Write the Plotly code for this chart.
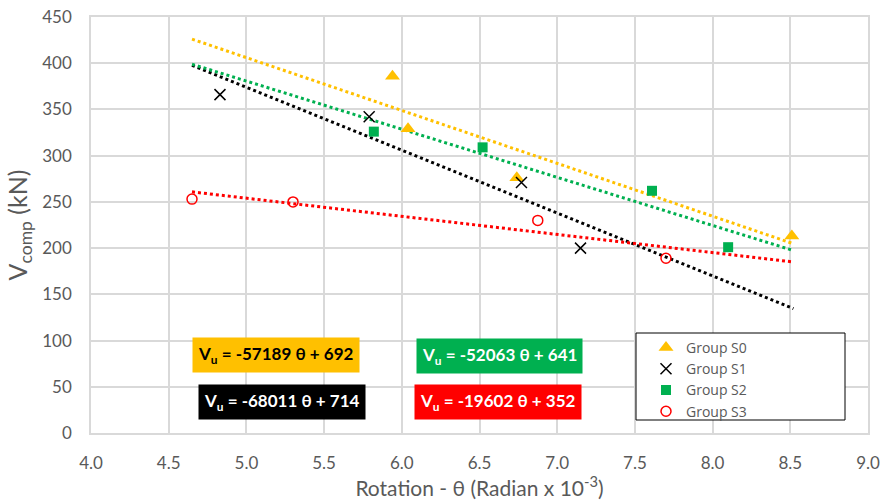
import plotly.graph_objects as go

# Data
s0_x = [5.94, 6.04, 6.74, 8.51]
s0_y = [386, 329, 276, 213]
s1_x = [4.83, 5.79, 6.77, 7.15]
s1_y = [366, 342, 271, 200]
s2_x = [5.82, 6.52, 7.61, 8.10]
s2_y = [326, 309, 262, 201]
s3_x = [4.65, 5.30, 6.875, 7.70]
s3_y = [253, 250, 230, 189]

names = ["Group S0", "Group S1", "Group S2", "Group S3"]
colors = ["#FFC000", "#000000", "#00B050", "#FF0000"]
slopes = [-57189, -68011, -52063, -19602]
intercepts = [692, 714, 641, 352]
trend_range = [4.65, 8.52]
eq_labels = ["V<sub>u</sub> = -57189 θ + 692", "V<sub>u</sub> = -68011 θ + 714",
             "V<sub>u</sub> = -52063 θ + 641", "V<sub>u</sub> = -19602 θ + 352"]
eq_pos_x = [5.19, 5.23, 6.63, 6.62]
eq_pos_y = [84, 33, 83, 33]
eq_text_colors = ["#000000", "#FFFFFF", "#FFFFFF", "#FFFFFF"]

FONT = "Lato, Open Sans, sans-serif"
fig = go.Figure()

# trendlines
for i in range(4):
    xs = trend_range
    ys = [slopes[i] * x * 1e-3 + intercepts[i] for x in xs]
    fig.add_trace(go.Scatter(x=xs, y=ys, mode="lines", showlegend=False,
                             line=dict(color=colors[i], width=3, dash="dot"),
                             hoverinfo="skip"))

fig.add_trace(go.Scatter(x=s0_x, y=s0_y, mode="markers", name=names[0],
                         marker=dict(symbol="triangle-up", size=13, color=colors[0])))
fig.add_trace(go.Scatter(x=s1_x, y=s1_y, mode="markers", name=names[1],
                         marker=dict(symbol="x-thin-open", size=11, color=colors[1],
                                     line=dict(width=1.5, color=colors[1]))))
fig.add_trace(go.Scatter(x=s2_x, y=s2_y, mode="markers", name=names[2],
                         marker=dict(symbol="square", size=10, color=colors[2])))
fig.add_trace(go.Scatter(x=s3_x, y=s3_y, mode="markers", name=names[3],
                         marker=dict(symbol="circle-open", size=10, color=colors[3],
                                     line=dict(width=1.5, color=colors[3]))))

for i in range(4):
    fig.add_annotation(x=eq_pos_x[i], y=eq_pos_y[i], text="<b>" + eq_labels[i] + "</b>",
                       showarrow=False, bgcolor=colors[i], borderpad=5,
                       font=dict(family=FONT, size=17, color=eq_text_colors[i]))

# legend box
fig.add_shape(type="rect", xref="paper", yref="paper",
              x0=(636 - 91) / 777, x1=(845 - 91) / 777,
              y0=(433 - 420) / 416, y1=(433 - 333) / 416,
              line=dict(color="#000000", width=1), fillcolor="white", layer="above")

grid = "#D9D9D9"
tickfont = dict(family=FONT, size=17, color="#595959")
fig.update_layout(
    width=883, height=500,
    margin=dict(l=91, r=15, t=17, b=67, autoexpand=False),
    paper_bgcolor="white", plot_bgcolor="white",
    font=dict(family=FONT, color="#595959"),
    legend=dict(x=(646 - 91) / 777, y=(433 - 332) / 416, xanchor="left", yanchor="top",
                bgcolor="rgba(0,0,0,0)", borderwidth=0,
                font=dict(family="Open Sans, sans-serif", size=14, color="#595959"),
                tracegroupgap=0),
    xaxis=dict(range=[4.0, 9.0], dtick=0.5, tick0=4.0, tickformat=".1f",
               showgrid=True, gridcolor=grid, gridwidth=1.5, automargin=False,
               showline=True, linecolor=grid, linewidth=1.5, mirror=True,
               zeroline=False, ticks="", tickfont=tickfont, ticklabelstandoff=14,
               title=dict(text="Rotation - θ (Radian x 10<sup>-3</sup>)",
                          font=dict(family=FONT, size=21, color="#595959"),
                          standoff=9)),
    yaxis=dict(range=[0, 450], dtick=50, showgrid=True, gridcolor=grid, gridwidth=1.5,
               showline=True, linecolor=grid, linewidth=1.5, mirror=True, automargin=False,
               zeroline=False, ticks="", tickfont=tickfont, ticklabelstandoff=14,
               title=dict(text="V<sub>comp</sub> (kN)",
                          font=dict(family=FONT, size=25, color="#595959"),
                          standoff=8)),
)

fig.write_html("out.html")
